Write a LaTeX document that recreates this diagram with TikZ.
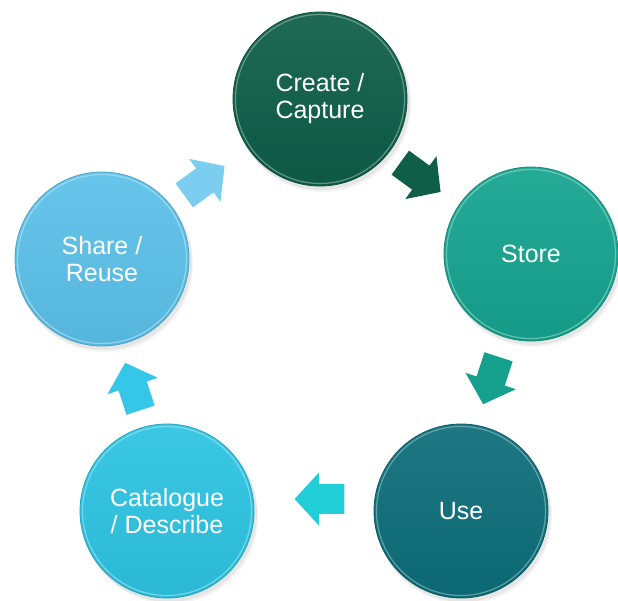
\documentclass[tikz,border=0pt]{standalone}
\usepackage{fontspec}
\setmainfont{Liberation Sans}
\definecolor{cCreate}{HTML}{0E5E48}
\definecolor{cStore}{HTML}{15A48F}
\definecolor{cUse}{HTML}{0C6E7A}
\definecolor{cCat}{HTML}{2DC4E2}
\definecolor{cShare}{HTML}{5CC1EA}
\definecolor{aOne}{HTML}{0E5E48}
\definecolor{aTwo}{HTML}{16A08E}
\definecolor{aThree}{HTML}{22CED8}
\definecolor{aFour}{HTML}{36C7E8}
\definecolor{aFive}{HTML}{7CCEF0}
\newcommand{\stagecircle}[5]{% name, x, y, color, text
  \fill[black!35,opacity=0.18] (#2+2,#3+3) circle (88);
  \fill[black!35,opacity=0.12] (#2+3,#3+5) circle (88);
  \node[circle, minimum size=174pt, inner sep=0pt, draw=#4!85!black, line width=0.8pt,
        top color=#4!93!white, bottom color=#4!94!black, text=white,
        font=\fontsize{25}{27}\selectfont, align=center] (#1) at (#2,#3) {#5};
  \draw[#4!50!white, line width=1.2pt, opacity=0.7] (#1.center) circle (84.5);
}
\newcommand{\cyclearrow}[4]{% x, y, angle, color
  \fill[#4, shift={(#1,#2)}, rotate=#3, scale=1.06]
    (-23,-14) -- (1,-14) -- (1,-25) -- (24,0) -- (1,25) -- (1,14) -- (-23,14) -- cycle;
}
\begin{document}
\begin{tikzpicture}[x=1pt,y=-1pt]
\useasboundingbox (0,0) rectangle (618,600);
\stagecircle{create}{320}{99}{cCreate}{Create /\\Capture}
\stagecircle{store}{531}{254}{cStore}{Store}
\stagecircle{use}{461}{511}{cUse}{Use}
\stagecircle{cat}{167}{511}{cCat}{Catalogue\\/ Describe}
\stagecircle{share}{102}{259}{cShare}{Share /\\Reuse}
\cyclearrow{420}{177}{-36}{aOne}
\cyclearrow{491}{380}{-108}{aTwo}
\cyclearrow{320}{499}{180}{aThree}
\cyclearrow{133}{387}{108}{aFour}
\cyclearrow{204}{181}{36}{aFive}
\end{tikzpicture}
\end{document}
